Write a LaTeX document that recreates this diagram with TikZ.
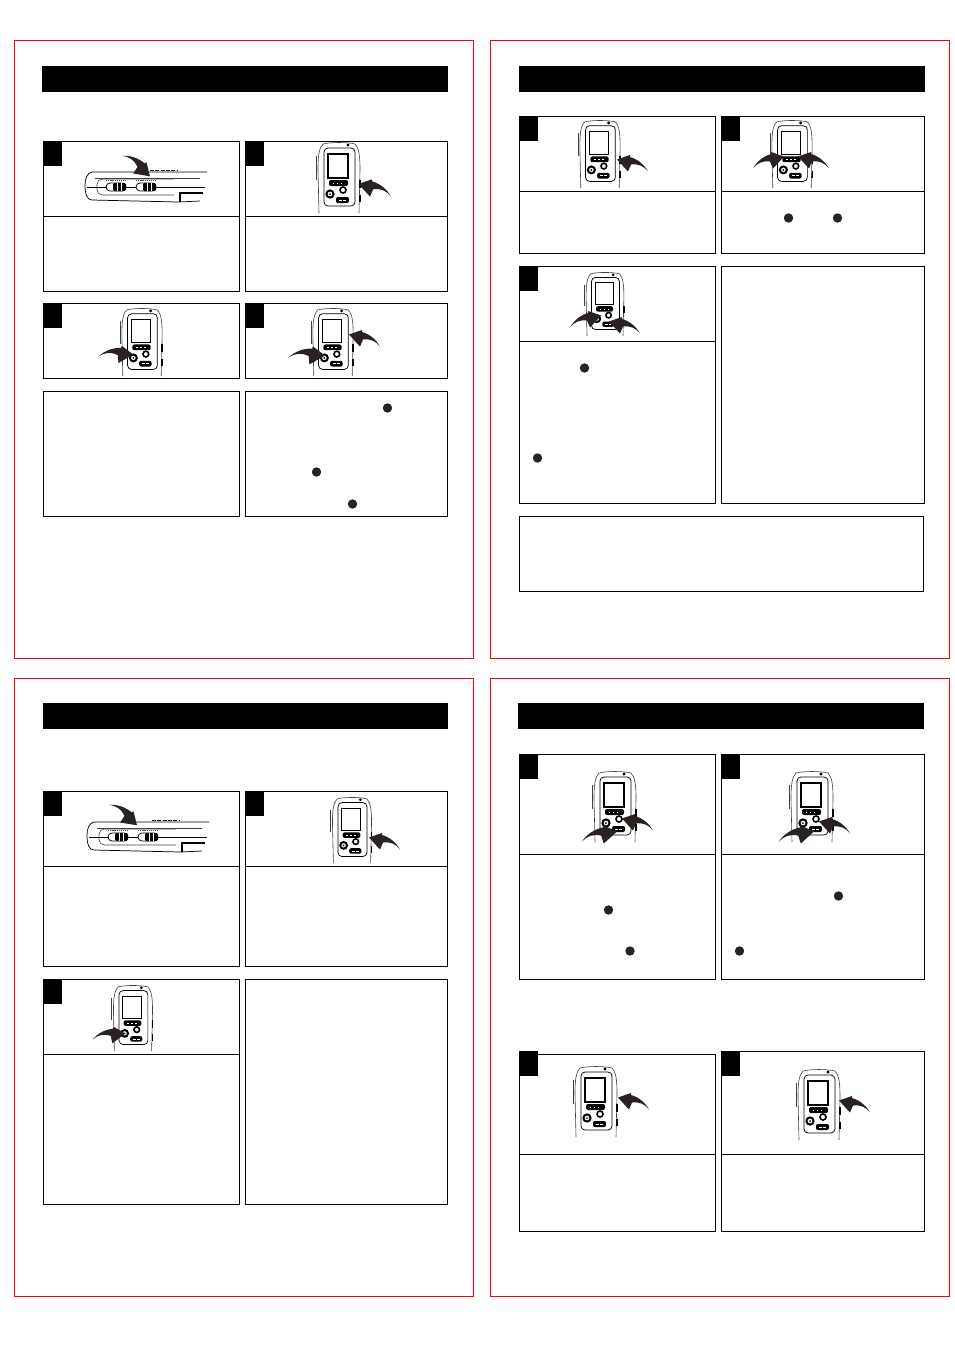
\documentclass[tikz,border=0pt]{standalone}
\usetikzlibrary{positioning}
\definecolor{swooshdark}{HTML}{2A2220}
\tikzset{
  frame/.style={draw=red,line width=0.95pt},
  titlebar/.style={fill=black},
  panel/.style={draw=black,line width=0.75pt},
  tab/.style={fill=black},
  bullet/.style={fill=swooshdark},
  thinline/.style={draw=black!75,line width=0.45pt},
  bodyline/.style={draw=black,line width=0.55pt},
  swooshfill/.style={fill=swooshdark},
  pics/swoosh/.style={code={
    \fill[swooshfill] (0,1.5) .. controls (-4,-6) and (-11,-11) .. (-18,-13)
      -- (-18,-15) -- (-31,-10.5) -- (-20,1.5) -- (-17,-5.5)
      .. controls (-10,-6.5) and (-4,-4) .. (0,1.5) -- cycle;
  }},
  pics/device/.style={code={
    \draw[thinline] (-20,71) -- (-21,28) .. controls (-21,14) and (-20,6) .. (-16,2)
      .. controls (-8,0) and (8,0) .. (16,2) .. controls (20,6) and (21,14) .. (21,28) -- (20,71);
    \draw[thinline] (-23,14) -- (-23,38);
    \draw[bodyline,rounded corners=3pt] (-15,6) rectangle (16,64);
    \draw[bodyline,line width=0.9pt] (-11,12) rectangle (9,36);
    \fill[black,rounded corners=1.5pt] (-10,38) rectangle (9,44);
    \draw[white,line width=0.6pt,dash pattern=on 1pt off 2pt] (-6,41) -- (6,41);
    \draw[bodyline,line width=1.5pt] (-9,52) circle (3.6);
    \fill[black] (-9,52) circle (1);
    \draw[bodyline,line width=1.2pt] (4,48) circle (3);
    \fill[black,rounded corners=1.5pt] (-3,55) rectangle (10,61);
    \draw[white,line width=0.6pt,dash pattern=on 2pt off 1pt] (0,58) -- (7,58);
    \fill[black] (9,3) circle (1.6);
    \draw[bodyline,line width=1pt] (21,38) -- (21,46) (21,53) -- (21,60);
  }},
  pics/sideview/.style={code={
    \draw[bodyline] (121,0) -- (6,0) .. controls (1,1) and (-1,7) .. (-1,13)
      .. controls (-1,22) and (1,28) .. (6,28) -- (92,30) -- (114,29);
    \draw[thinline] (9,6) -- (114,6);
    \draw[bodyline] (1,15) -- (21,15) (40,15) -- (50,15) (70,15) -- (119,15);
    \draw[thinline,rounded corners=4pt] (88,7) -- (11,7) -- (11,23) -- (88,23);
    \draw[bodyline,line width=1.2pt] (94,30) -- (94,21) -- (117,21);
    \draw[black,line width=0.9pt,dash pattern=on 3pt off 1pt] (64,-1.5) -- (92,-1.5);
    \foreach \sx in {20,50} {
      \draw[bodyline,rounded corners=3pt] (\sx,11) rectangle (\sx+20,19);
      \fill[black,rounded corners=1pt] (\sx+7,11) rectangle (\sx+20,19);
      \draw[white,line width=0.4pt] (\sx+11,11) -- (\sx+11,19) (\sx+15,11) -- (\sx+15,19);
      \draw[black!70,line width=0.9pt,dash pattern=on 1pt off 0.6pt] (\sx,8.5) -- (\sx+20,8.5);
    }
  }}
}
\begin{document}
\begin{tikzpicture}[x=0.75pt,y=-0.75pt]
  \useasboundingbox (0,0) rectangle (954,1350);
  % outer frames
  \foreach \xa/\ya in {14.5/40.5,490.5/40.5,14.5/678.5,490.5/678.5}
    \draw[frame] (\xa,\ya) rectangle (\xa+459,\ya+618);
  % title bars
  \foreach \xa/\ya/\xb in {42/66/448,519/66/925,43/703/448,518/703/924}
    \fill[titlebar] (\xa,\ya) rectangle (\xb,\ya+26);
  % step panels with a divider
  \foreach \xa/\ya/\xb/\yb/\yd in {
      43/141/239.5/291/216,245/141/447.5/291/216,
      43/303/239.5/378/378,245/303/447.5/378/378,
      519/116/715.5/253/191,721/116/924.5/253/191,519/266/715.5/503/341,
      43/791/239.5/966/866,245/791/447.5/966/866,43/979/239.5/1204/1054,
      519/754/715.5/979/854,721/754/924.5/979/854,
      519/1054/715.5/1231/1154,721/1051/924.5/1231/1154}
    \draw[panel] (\xa,\ya) rectangle (\xb,\yb) (\xa,\yd) -- (\xb,\yd);
  % black number tabs
  \foreach \xa/\ya in {43/141,245/141,43/303,245/303,519/116,721/116,519/266,
      43/791,245/791,43/979,519/754,721/754,519/1051,721/1051}
    \fill[tab] (\xa,\ya) rectangle (\xa+19,\ya+25);
  % plain text panels
  \foreach \xa/\ya/\xb/\yb in {43/391/239.5/516,245/391/447.5/516,721/266/924.5/503,
      519/516/923.5/591,245/979/447.5/1204}
    \draw[panel] (\xa,\ya) rectangle (\xb,\yb);
  % bullets
  \foreach \xa/\ya in {387.5/408,316.5/472,352.5/504,788.5/218,837.5/218,584.5/368,537.5/458,
      608.5/910,630/951,838.5/896,739.5/951}
    \fill[bullet] (\xa,\ya) circle (4.7);
  % side views
  \pic at (86,172) {sideview};
  \pic at (88,822) {sideview};
  % players
  \pic at (339,142) {device};
  \pic[scale=.96] at (142,308) {device};
  \pic[scale=.96] at (333,308) {device};
  \pic[scale=.96] at (600,120) {device};
  \pic[scale=.96] at (792,120) {device};
  \pic[scale=.9] at (605,272) {device};
  \pic[scale=.93] at (352,797) {device};
  \pic[scale=.93] at (133,985) {device};
  \pic at (615,771) {device};
  \pic at (812,771) {device};
  \pic at (596,1066) {device};
  \pic at (819,1069) {device};
  % arrows
  \pic[rotate=-57,xscale=-1,scale=1.05] at (123,155) {swoosh};
  \pic[rotate=-57,xscale=-1,scale=1.05] at (110,804) {swoosh};
  \pic[scale=1.05] at (391,195) {swoosh};
  \pic[rotate=-18,xscale=-1,scale=1.05] at (99,355) {swoosh};
  \pic[rotate=-18,xscale=-1,scale=1.1] at (289,356) {swoosh};
  \pic at (380,345) {swoosh};
  \pic at (648,170) {swoosh};
  \pic[xscale=-1] at (753,167) {swoosh};
  \pic at (829,167) {swoosh};
  \pic[xscale=-1] at (570,326) {swoosh};
  \pic at (640,332) {swoosh};
  \pic at (400,848) {swoosh};
  \pic[rotate=-11,xscale=-1] at (93,1038) {swoosh};
  \pic[rotate=-5,xscale=-1,scale=1.1] at (582,840) {swoosh};
  \pic at (653,829) {swoosh};
  \pic[rotate=-5,xscale=-1,scale=1.1] at (779,840) {swoosh};
  \pic at (850,832) {swoosh};
  \pic at (649,1108) {swoosh};
  \pic at (870,1111) {swoosh};
\end{tikzpicture}
\end{document}
